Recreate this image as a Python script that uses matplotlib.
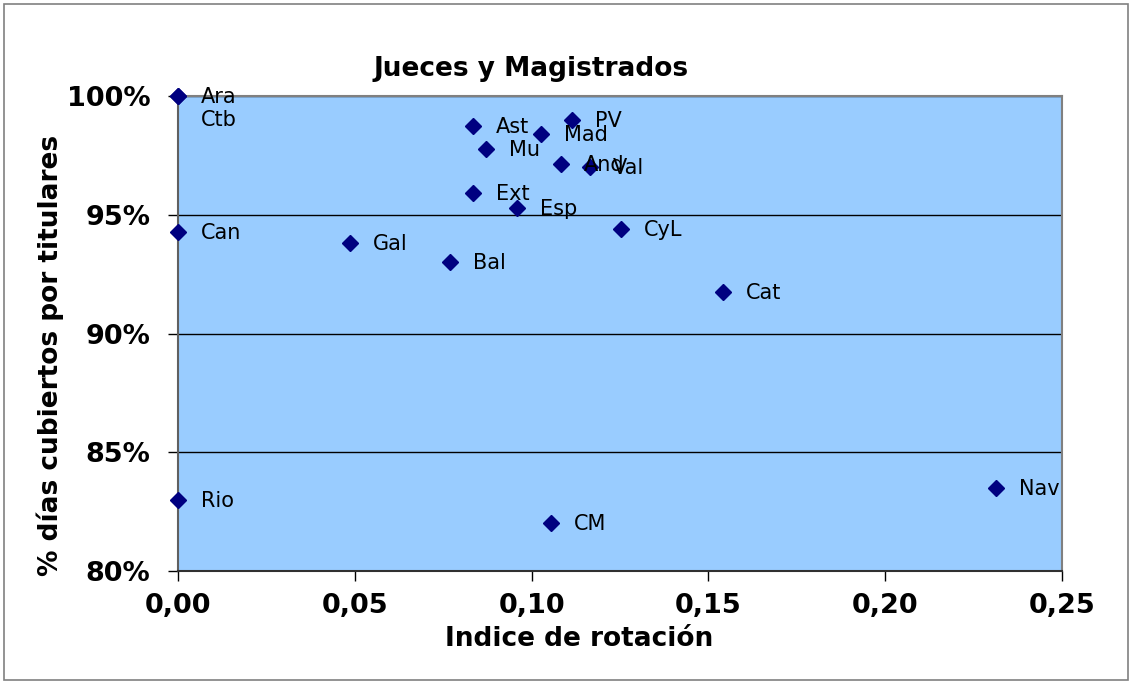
import matplotlib.pyplot as plt
from matplotlib.patches import Rectangle
from matplotlib.ticker import FuncFormatter

regiones = ["Ara", "Ctb", "Can", "Rio", "Gal", "Bal", "Ext", "Ast", "Mu", "Esp",
            "Mad", "PV", "And", "Val", "CyL", "Cat", "Nav", "CM"]
rotacion = [0.0, 0.0, 0.0, 0.0, 0.0487, 0.0770, 0.0834, 0.0834, 0.0871, 0.0958,
            0.1026, 0.1114, 0.1083, 0.1166, 0.1253, 0.1541, 0.2312, 0.1055]
cubiertos = [1.000, 1.000, 0.9429, 0.8299, 0.9382, 0.9302, 0.9593, 0.9875, 0.9777, 0.9530,
             0.9839, 0.9899, 0.9712, 0.9702, 0.9440, 0.9173, 0.8349, 0.8201]

W, H = 1132, 682
fig = plt.figure(figsize=(W / 100, H / 100), dpi=100)
fig.patches.append(Rectangle((4 / W, 2 / H), 1124 / W, 676 / H, transform=fig.transFigure,
                             fill=False, edgecolor="#808080", linewidth=1.2))

ax = fig.add_axes([178 / W, 1 - 571 / H, 884 / W, 475 / H])
ax.set_facecolor("#99CCFF")
ax.set_xlim(0, 0.25)
ax.set_ylim(0.80, 1.00)
ax.set_xticks([0, 0.05, 0.10, 0.15, 0.20, 0.25])
ax.set_yticks([0.80, 0.85, 0.90, 0.95, 1.00])
ax.xaxis.set_major_formatter(FuncFormatter(lambda v, p: f"{v:.2f}".replace(".", ",")))
ax.yaxis.set_major_formatter(FuncFormatter(lambda v, p: f"{v * 100:.0f}%"))
ax.tick_params(direction="out", length=7, width=1, color="black", labelsize=19.5)
ax.tick_params(axis="x", pad=9)
ax.tick_params(axis="y", pad=13)
for lab in ax.get_xticklabels() + ax.get_yticklabels():
    lab.set_fontweight("bold")
ax.yaxis.grid(True, color="black", linewidth=1)
ax.set_axisbelow(True)
for s in ["top", "right"]:
    ax.spines[s].set_color("#808080")
    ax.spines[s].set_linewidth(1.5)
ax.spines["left"].set_color("#606060")
ax.spines["left"].set_linewidth(1.5)
ax.spines["bottom"].set_color("#303030")
ax.spines["bottom"].set_linewidth(1.5)

ax.plot(rotacion, cubiertos, linestyle="none", marker="D", markersize=8,
        color="#000080", clip_on=False, zorder=5)

# Etiquetas a la derecha de cada punto; Ctb se desplaza porque coincide con Ara
for nombre, x, y in zip(regiones, rotacion, cubiertos):
    dy = -24 if nombre == "Ctb" else -1
    ax.annotate(nombre, (x, y), xytext=(23, dy), textcoords="offset pixels",
                ha="left", va="center", fontsize=15, color="black", zorder=6)

fig.text(531 / W, 1 - 69 / H, "Jueces y Magistrados", ha="center", va="center",
         fontsize=19, fontweight="bold")
fig.text(579 / W, 1 - 639 / H, "Indice de rotación", ha="center", va="center",
         fontsize=19, fontweight="bold")
fig.text(50 / W, 1 - 355 / H, "% días cubiertos por titulares", ha="center", va="center",
         rotation=90, fontsize=19, fontweight="bold")

fig.savefig("out.png", dpi=100)
